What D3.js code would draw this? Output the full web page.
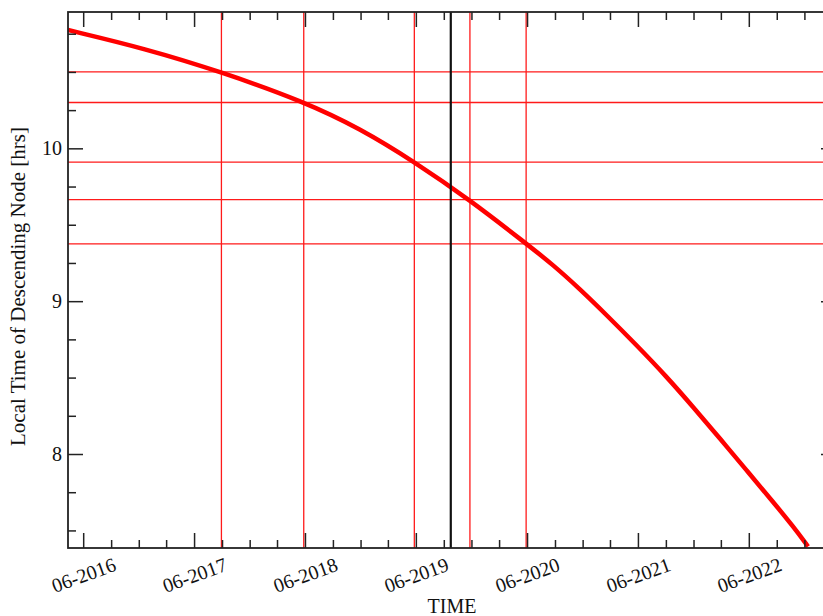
<!DOCTYPE html>
<html>
<head>
<meta charset="utf-8">
<script src="https://cdn.jsdelivr.net/npm/d3@7"></script>
<style>
  body { margin: 0; background: #fff; }
  svg { display: block; overflow: hidden; }
  text { font-family: "Liberation Serif", "DejaVu Serif", serif; fill: #111; }
</style>
</head>
<body>
<div id="my_dataviz"></div>
<script>

// curve: date, local time of descending node (hrs)
var ltdn_dates = ["2016-04-12", "2016-12-21", "2017-08-30", "2018-05-28", "2018-11-29",
                  "2019-05-27", "2019-11-26", "2020-05-29", "2020-08-26", "2020-11-22",
                  "2021-02-18", "2021-05-27", "2021-09-03", "2021-11-30", "2022-02-26",
                  "2022-05-24", "2022-08-20", "2022-10-25", "2022-12-13"];
var ltdn_values = [10.774, 10.653, 10.5, 10.306, 10.13,
                   9.912, 9.662, 9.377, 9.237, 9.079,
                   8.909, 8.713, 8.507, 8.307, 8.101,
                   7.895, 7.686, 7.526, 7.395];

// reference lines
var hline_values = [10.5, 10.3, 9.91, 9.665, 9.375];
var vline_dates = ["2017-08-30", "2018-05-28", "2019-05-27", "2019-11-26", "2020-05-29"];
var now_date = "2019-09-24";

var x_tick_labels = ["06-2016", "06-2017", "06-2018", "06-2019", "06-2020", "06-2021", "06-2022"];
var y_tick_values = [8, 9, 10];

var x_domain = ["2016-04-12", "2023-03-15"];
var y_domain = [7.385, 10.892];

var parseDay = d3.timeParse("%Y-%m-%d");
var parseTick = d3.timeParse("%m-%Y");

var margin = {top: 12, left: 68},
    width = 768,
    height = 536;

var svg = d3.select("#my_dataviz")
  .append("svg")
    .attr("width", 823)
    .attr("height", 616)
  .append("g")
    .attr("transform", "translate(" + margin.left + "," + margin.top + ")");

var x = d3.scaleTime()
    .domain(x_domain.map(parseDay))
    .range([0, width]);

var y = d3.scaleLinear()
    .domain(y_domain)
    .range([height, 0]);

svg.append("clipPath")
    .attr("id", "plot_clip")
  .append("rect")
    .attr("width", width)
    .attr("height", height);

var plot = svg.append("g").attr("clip-path", "url(#plot_clip)");

// red crossing lines
plot.selectAll(".hline")
  .data(hline_values)
  .enter()
  .append("line")
    .attr("x1", 0)
    .attr("x2", width)
    .attr("y1", function (d) { return y(d); })
    .attr("y2", function (d) { return y(d); })
    .attr("stroke", "#ff1a1a")
    .attr("stroke-width", 1.3);

plot.selectAll(".vline")
  .data(vline_dates)
  .enter()
  .append("line")
    .attr("x1", function (d) { return x(parseDay(d)); })
    .attr("x2", function (d) { return x(parseDay(d)); })
    .attr("y1", 0)
    .attr("y2", height)
    .attr("stroke", "#ff1a1a")
    .attr("stroke-width", 1.3);

var curve_data = ltdn_dates.map(function (d, i) { return {date: parseDay(d), value: ltdn_values[i]}; });

plot.append("path")
    .datum(curve_data)
    .attr("fill", "none")
    .attr("stroke", "#ff0000")
    .attr("stroke-width", 4.5)
    .attr("d", d3.line()
      .curve(d3.curveBasis)
      .x(function (d) { return x(d.date); })
      .y(function (d) { return y(d.value); }));

plot.append("line")
    .attr("x1", x(parseDay(now_date)))
    .attr("x2", x(parseDay(now_date)))
    .attr("y1", 0)
    .attr("y2", height)
    .attr("stroke", "#111")
    .attr("stroke-width", 2.2);

// frame with inward ticks on all four sides
var major_dates = x_tick_labels.map(parseTick);
var minor_dates = d3.timeMonth.range(x.domain()[0], x.domain()[1])
    .filter(function (d) { return d.getMonth() % 3 == 2 && d.getMonth() != 5; });
var minor_values = d3.range(7.5, 11, 0.25).filter(function (d) { return y_tick_values.indexOf(d) < 0; });

var axis_color = "#222";

svg.append("g")
    .attr("transform", "translate(0," + height + ")")
    .call(d3.axisBottom(x).tickValues(major_dates).tickSize(-15).tickFormat(d3.timeFormat("%m-%Y")))
    .call(function (g) {
      g.select(".domain").remove();
      g.selectAll(".tick text")
        .attr("font-size", 20)
        .attr("text-anchor", "middle")
        .attr("y", 0)
        .attr("dy", "0.35em")
        .attr("transform", "translate(0,27) rotate(-20)");
    });

svg.append("g")
    .attr("transform", "translate(0," + height + ")")
    .call(d3.axisBottom(x).tickValues(minor_dates).tickSize(-8).tickFormat(""))
    .call(function (g) { g.select(".domain").remove(); });

svg.append("g")
    .call(d3.axisTop(x).tickValues(major_dates).tickSize(-15).tickFormat(""))
    .call(function (g) { g.select(".domain").remove(); });

svg.append("g")
    .call(d3.axisTop(x).tickValues(minor_dates).tickSize(-8).tickFormat(""))
    .call(function (g) { g.select(".domain").remove(); });

svg.append("g")
    .call(d3.axisLeft(y).tickValues(y_tick_values).tickSize(-15).tickPadding(6).tickFormat(d3.format("d")))
    .call(function (g) {
      g.select(".domain").remove();
      g.selectAll(".tick text").attr("font-size", 20).attr("x", -6);
    });

svg.append("g")
    .call(d3.axisLeft(y).tickValues(minor_values).tickSize(-8).tickFormat(""))
    .call(function (g) { g.select(".domain").remove(); });

svg.append("g")
    .attr("transform", "translate(" + width + ",0)")
    .call(d3.axisRight(y).tickValues(y_tick_values).tickSize(-15).tickFormat(""))
    .call(function (g) { g.select(".domain").remove(); });

svg.append("g")
    .attr("transform", "translate(" + width + ",0)")
    .call(d3.axisRight(y).tickValues(minor_values).tickSize(-8).tickFormat(""))
    .call(function (g) { g.select(".domain").remove(); });

svg.selectAll(".tick line")
    .attr("stroke", axis_color)
    .attr("stroke-width", 1.5);

svg.append("rect")
    .attr("width", width)
    .attr("height", height)
    .attr("fill", "none")
    .attr("stroke", axis_color)
    .attr("stroke-width", 1.8);

// axis titles
svg.append("text")
    .attr("transform", "rotate(-90)")
    .attr("x", -274.5)
    .attr("y", -43)
    .attr("font-size", 21)
    .style("text-anchor", "middle")
    .text("Local Time of Descending Node [hrs]");

svg.append("text")
    .attr("x", 384)
    .attr("y", 601)
    .attr("font-size", 20)
    .style("text-anchor", "middle")
    .text("TIME");

</script>
</body>
</html>
